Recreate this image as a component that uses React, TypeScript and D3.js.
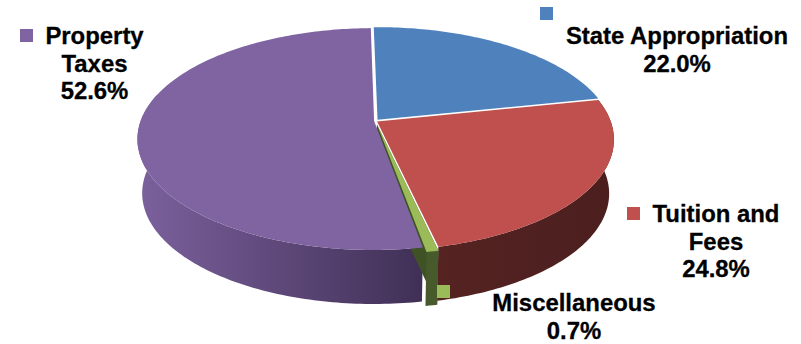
import React from "react";
import * as d3 from "d3";

const categories = ["State Appropriation", "Tuition and Fees", "Miscellaneous", "Property Taxes"];
const shares = [22.0, 24.8, 0.7, 52.6];
const topColors = ["#4F81BD", "#C0504D", "#9BBB59", "#8064A2"];
const wallLeft = ["#2a4a70", "#552322", "#475a2b", "#7c619d"];
const wallRight = ["#2a4a70", "#4b1f1e", "#475a2b", "#3f2f55"];
const explode = [0.014, 0.008, 0.03, 0.006];

const labelLines = [
  { x: 677, lines: ["State Appropriation", "22.0%"], y: 44 },
  { x: 716, lines: ["Tuition and", "Fees", "24.8%"], y: 222 },
  { x: 574, lines: ["Miscellaneous", "0.7%"], y: 311 },
  { x: 94.5, lines: ["Property", "Taxes", "52.6%"], y: 44 },
];
const legendMarks = [
  { x: 540, y: 7 },
  { x: 627, y: 207 },
  { x: 437, y: 285 },
  { x: 20, y: 29 },
];

const cx = 375.5;
const cy = 121;
const a = 233.5;
const b = 108;
const k = 0.162;
const wall = 54;
const shrink = 0.98;
const rotation = (-1 * Math.PI) / 180;

// Perspective projection of a disk point (u right, v toward viewer) at depth z (0 top, 1 bottom).
const project = (u: number, v: number, z: number): [number, number] => {
  const w = 1 - k * v;
  const s = 1 - (1 - shrink) * z;
  return [cx + (a * u * s) / w, cy + (b * v) / w + wall * z];
};

const pie = d3.pie<number>().sort(null).value((d) => d).startAngle(rotation).endAngle(rotation + 2 * Math.PI);
const slices = pie(shares);
const line = d3.line();
const stepRad = Math.PI / 180;

// Points along the rim between two angles at a given depth.
const rim = (from: number, to: number, off: [number, number], z: number) => {
  const n = Math.max(2, Math.ceil((to - from) / stepRad));
  return d3.range(n + 1).map((i) => {
    const t = from + ((to - from) * i) / n;
    return project(Math.sin(t) + off[0], -Math.cos(t) + off[1], z);
  });
};

// Only the side of the rim that faces the viewer gets a wall.
const frontFrom = Math.PI / 2 - 0.25;
const frontTo = (3 * Math.PI) / 2 + 0.25;

export default function App() {
  const parts = slices.map((s, i) => {
    const mid = (s.startAngle + s.endAngle) / 2;
    const off: [number, number] = [Math.sin(mid) * explode[i], -Math.cos(mid) * explode[i]];
    const hubTop = project(off[0], off[1], 0);
    const hubBottom = project(off[0], off[1], 1);
    const top = line([hubTop, ...rim(s.startAngle, s.endAngle, off, 0)])! + "Z";
    const from = Math.max(s.startAngle, frontFrom);
    const to = Math.min(s.endAngle, frontTo);
    const outer =
      to > from
        ? line([...rim(from, to, off, 0), ...rim(from, to, off, 1).reverse()])! + "Z"
        : "";
    const startWall =
      line([hubTop, rim(s.startAngle, s.endAngle, off, 0)[0], rim(s.startAngle, s.endAngle, off, 1)[0], hubBottom])! + "Z";
    return { i, top, outer, startWall };
  });

  return (
    <svg
      width={801}
      height={344}
      style={{ position: "absolute", left: 0, top: 0 }}
      fontFamily="'Liberation Sans', Arial, sans-serif"
    >
      <defs>
        {parts.map(({ i }) => (
          <linearGradient key={i} id={`wall-${i}`} gradientUnits="userSpaceOnUse" x1={i === 3 ? 137 : 430} x2={i === 3 ? 425 : 614} y1={0} y2={0}>
            <stop offset="0" stopColor={wallLeft[i]} />
            <stop offset="1" stopColor={wallRight[i]} />
          </linearGradient>
        ))}
      </defs>
      {[3, 1].map((i) => (
        <path key={`outer-${i}`} d={parts[i].outer} fill={`url(#wall-${i})`} />
      ))}
      <path d={parts[2].startWall} fill="#3f5226" />
      <path d={parts[2].outer} fill={wallLeft[2]} />
      {[3, 0, 1, 2].map((i) => (
        <path key={`top-${i}`} d={parts[i].top} fill={topColors[i]} />
      ))}
      {legendMarks.map((m, i) => (
        <rect key={categories[i]} x={m.x} y={m.y} width={13} height={13} fill={topColors[i]} />
      ))}
      {labelLines.map((l, i) => (
        <text key={i} x={l.x} y={l.y} textAnchor="middle" fontSize={23.9} fontWeight="bold" fill="#000" stroke="#000" strokeWidth={0.3}>
          {l.lines.map((t, j) => (
            <tspan key={j} x={l.x} dy={j === 0 ? 0 : 27.6}>
              {t}
            </tspan>
          ))}
        </text>
      ))}
    </svg>
  );
}
